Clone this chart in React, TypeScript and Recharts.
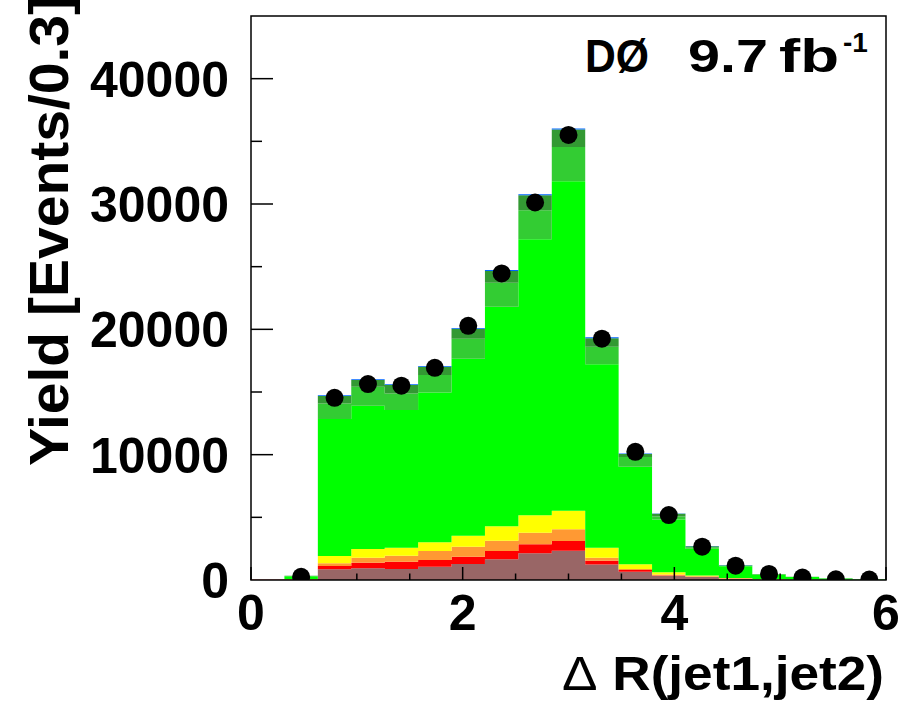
import {
  Area,
  ComposedChart,
  ReferenceArea,
  Scatter,
  XAxis,
  YAxis,
} from "recharts";

// 19 bins spanning 0..6
const BIN_W = 6 / 19;

// stacked MC components, bottom to top, one value per bin
const brown = [20, 40, 853, 933, 877, 1061, 1276, 1651, 2129, 2336, 1236, 662, 319, 239, 100, 50, 25, 12, 5];
const red = [10, 10, 263, 447, 582, 534, 582, 662, 718, 773, 303, 136, 40, 20, 10, 5, 3, 2, 1];
const orange = [0, 10, 215, 399, 478, 718, 797, 821, 925, 933, 239, 80, 80, 40, 20, 10, 5, 3, 1];
const yellow = [0, 10, 582, 694, 638, 694, 877, 1148, 1387, 1483, 797, 375, 183, 64, 30, 15, 8, 4, 2];
const green = [0, 230, 10924, 11427, 10980, 11945, 14114, 17511, 22032, 26290, 14648, 7783, 4202, 2129, 930, 350, 195, 100, 40];
const midGreen = [0, 20, 1252, 1515, 1332, 1395, 1595, 1914, 2312, 2735, 1380, 773, 239, 120, 60, 25, 15, 8, 4];
const darkGreen = [0, 10, 582, 534, 662, 662, 797, 957, 1196, 1387, 694, 239, 215, 80, 36, 18, 8, 5, 2];
const blue = [0, 5, 70, 70, 70, 70, 70, 70, 80, 80, 70, 40, 30, 20, 10, 5, 4, 2, 1];

// data, bins 1..18
const dataBins = [1, 2, 3, 4, 5, 6, 7, 8, 9, 10, 11, 12, 13, 14, 15, 16, 17, 18];
const dataValues = [260, 14540, 15630, 15500, 16930, 20280, 24460, 30120, 35510, 19250, 10230, 5180, 2660, 1140, 480, 190, 60, 30];

const yTicks = [0, 5000, 10000, 15000, 20000, 25000, 30000, 35000, 40000];
const xTicks = [0, 0.5, 1, 1.5, 2, 2.5, 3, 3.5, 4, 4.5, 5, 5.5, 6];

const layers = [
  { key: "brown", values: brown, color: "#996666" },
  { key: "red", values: red, color: "#ff0000" },
  { key: "orange", values: orange, color: "#ff9933" },
  { key: "yellow", values: yellow, color: "#ffff00" },
  { key: "green", values: green, color: "#00ff00" },
  { key: "midGreen", values: midGreen, color: "#33cc33" },
  { key: "darkGreen", values: darkGreen, color: "#339933" },
  { key: "blue", values: blue, color: "#0066ff" },
];

const FONT = "'Liberation Sans', Arial, Helvetica, sans-serif";

// histogram rows at bin edges, plus closing edge at x = 6
const hist = brown.map((_, i) => {
  const row: any = { x: i * BIN_W };
  layers.forEach((l) => (row[l.key] = l.values[i]));
  return row;
});
hist.push({ ...hist[hist.length - 1], x: 6 });

const points = dataBins.map((b, i) => ({ x: (b + 0.5) * BIN_W, y: dataValues[i] }));

const YTick = (props: any) => {
  const { x, y, payload } = props;
  const v = payload.value;
  const major = v % 10000 === 0;
  return (
    <g>
      {v > 0 && (
        <line x1={x} x2={x + (major ? 22 : 11)} y1={y} y2={y} stroke="#000" strokeWidth={1.5} />
      )}
      {major && (
        <text x={x - 22} y={y + 18} textAnchor="end" fontFamily={FONT} fontWeight="bold" fontSize={50} fill="#000">
          {v}
        </text>
      )}
    </g>
  );
};

const XTick = (props: any) => {
  const { x, y, payload } = props;
  const v = payload.value;
  const major = v % 2 === 0;
  return (
    <g>
      <line x1={x} x2={x} y1={y} y2={y - (major ? 13 : 6.5)} stroke="#000" strokeWidth={1.5} />
      {major && (
        <text x={x} y={y + 50} textAnchor="middle" fontFamily={FONT} fontWeight="bold" fontSize={50} fill="#000">
          {v}
        </text>
      )}
    </g>
  );
};

const Dot = (props: any) => <circle cx={props.cx} cy={props.cy} r={9} fill="#000" />;

export default function App() {
  return (
    <div style={{ position: "absolute", left: 0, top: 0, width: 919, height: 701, background: "#fff" }}>
      <ComposedChart width={919} height={701} data={hist} margin={{ top: 16, right: 33, bottom: 0, left: 0 }}>
        {layers.map((l) => (
          <Area
            key={l.key}
            dataKey={l.key}
            type="stepAfter"
            stackId="mc"
            fill={l.color}
            fillOpacity={1}
            stroke="none"
            isAnimationActive={false}
            dot={false}
            activeDot={false}
          />
        ))}
        <Scatter data={points} dataKey="y" shape={<Dot />} isAnimationActive={false} />
        <XAxis
          dataKey="x"
          type="number"
          domain={[0, 6]}
          ticks={xTicks}
          interval={0}
          height={121}
          axisLine={false}
          tickLine={false}
          tickSize={0}
          tickMargin={0}
          tick={<XTick />}
          allowDataOverflow
        />
        <YAxis
          type="number"
          domain={[0, 45000]}
          ticks={yTicks}
          interval={0}
          width={251}
          axisLine={false}
          tickLine={false}
          tickSize={0}
          tickMargin={0}
          tick={<YTick />}
          allowDataOverflow
        />
        <ReferenceArea x1={0} x2={6} y1={0} y2={45000} fill="none" stroke="#000" strokeWidth={1.5} ifOverflow="visible" />
      </ComposedChart>
      <svg width={919} height={701} style={{ position: "absolute", left: 0, top: 0, pointerEvents: "none" }}>
        <g fontFamily={FONT} fontWeight="bold" fill="#000">
          <text transform="translate(68,466) rotate(-90)" fontSize={56} textLength={470} lengthAdjust="spacingAndGlyphs">
            Yield [Events/0.3]
          </text>
          <text x={884} y={690} textAnchor="end" fontSize={48} textLength={322} lengthAdjust="spacingAndGlyphs">
            <tspan fontWeight="normal">Δ</tspan> R(jet1,jet2)
          </text>
          <text x={585} y={72} fontSize={46} textLength={64} lengthAdjust="spacingAndGlyphs">DØ</text>
          <text x={688} y={72} fontSize={46} textLength={80} lengthAdjust="spacingAndGlyphs">9.7</text>
          <text x={779} y={72} fontSize={46} textLength={60} lengthAdjust="spacingAndGlyphs">fb</text>
          <text x={843} y={52} fontSize={28}>-1</text>
        </g>
      </svg>
    </div>
  );
}
